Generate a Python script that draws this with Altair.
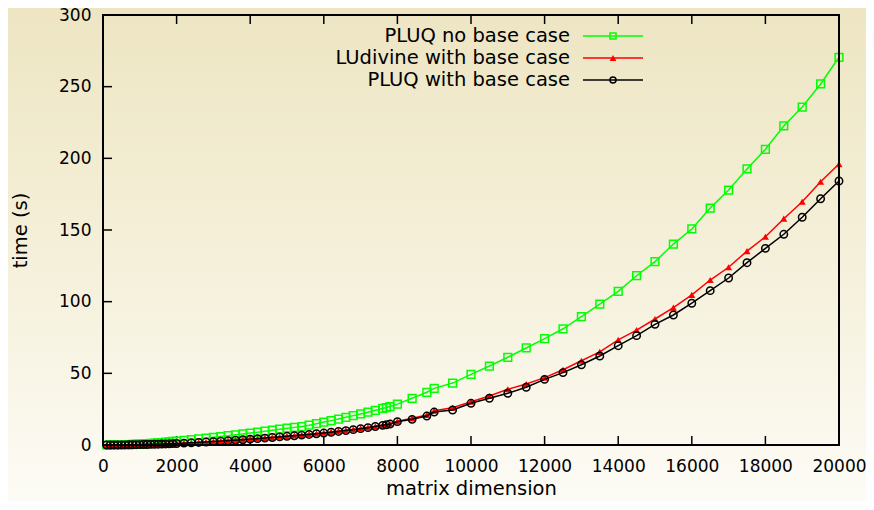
import altair as alt
import pandas as pd

# ---------------- data ----------------
dims = [100, 200, 300, 400, 500, 600, 700, 800, 900, 1000,
        1100, 1200, 1300, 1400, 1500, 1600, 1700, 1800, 1900, 2000,
        2200, 2400, 2600, 2800, 3000, 3200, 3400, 3600, 3800, 4000,
        4200, 4400, 4600, 4800, 5000, 5200, 5400, 5600, 5800, 6000,
        6200, 6400, 6600, 6800, 7000, 7200, 7400, 7600, 7700, 7800,
        8000, 8400, 8800, 9000, 9500, 10000, 10500, 11000, 11500, 12000,
        12500, 13000, 13500, 14000, 14500, 15000, 15500, 16000, 16500, 17000,
        17500, 18000, 18500, 19000, 19500, 20000]

pluq_no_base = [0.0, 0.02, 0.05, 0.1, 0.16, 0.23, 0.32, 0.42, 0.53, 0.65,
                0.8, 0.95, 1.1, 1.3, 1.5, 1.7, 1.95, 2.2, 2.45, 2.7,
                3.2, 3.7, 4.2, 4.8, 5.4, 5.9, 6.5, 7.1, 7.7, 8.3,
                8.9, 9.6, 10.3, 11.0, 11.7, 12.3, 12.9, 13.8, 14.9, 16.0,
                17.0, 18.1, 19.3, 20.5, 21.7, 22.9, 24.2, 25.5, 26.1, 26.8,
                28.5, 32.6, 36.8, 39.5, 43.2, 49.3, 55.1, 61.2, 67.7, 74.2,
                81.1, 89.5, 98.3, 107.2, 118.1, 127.9, 140.2, 150.7, 165.3, 177.9,
                192.6, 206.3, 222.6, 235.8, 251.9, 270.5]

ludivine_base = [0.0, 0.01, 0.02, 0.04, 0.06, 0.09, 0.12, 0.16, 0.2, 0.25,
                 0.3, 0.36, 0.43, 0.5, 0.58, 0.67, 0.77, 0.88, 0.99, 1.1,
                 1.33, 1.58, 1.84, 2.13, 2.44, 2.75, 3.08, 3.42, 3.78, 4.16,
                 4.55, 4.95, 5.36, 5.78, 6.2, 6.63, 7.08, 7.55, 8.05, 8.6,
                 9.15, 9.7, 10.3, 10.9, 11.6, 12.3, 13.1, 13.9, 14.3, 14.8,
                 16.5, 18.6, 20.9, 23.9, 26.0, 30.2, 34.2, 38.9, 42.6, 47.0,
                 52.5, 58.8, 65.0, 73.3, 80.2, 87.9, 95.8, 104.7, 115.1, 124.0,
                 135.3, 145.3, 157.9, 169.7, 183.7, 196.0]

pluq_base = [0.0, 0.01, 0.02, 0.04, 0.06, 0.09, 0.12, 0.16, 0.2, 0.25,
             0.3, 0.35, 0.42, 0.49, 0.56, 0.65, 0.74, 0.84, 0.95, 1.06,
             1.28, 1.52, 1.78, 2.06, 2.36, 2.66, 2.98, 3.32, 3.67, 4.04,
             4.42, 4.82, 5.23, 5.65, 6.05, 6.45, 6.9, 7.35, 7.85, 8.35,
             8.9, 9.45, 10.05, 10.7, 11.4, 12.1, 12.9, 13.7, 14.1, 14.6,
             16.3, 17.9, 20.2, 23.0, 24.4, 29.1, 32.6, 36.1, 40.3, 45.8,
             50.5, 56.0, 62.1, 69.3, 76.3, 84.2, 90.7, 98.9, 107.7, 116.5,
             127.2, 137.2, 147.0, 158.9, 171.8, 184.2]

series_names = ["PLUQ no base case", "LUdivine with base case", "PLUQ with base case"]
series_colors = ["#00ff00", "#ff0000", "#000000"]
series_shapes = ["square", "triangle-up", "circle"]
series_filled = [False, True, False]

x_ticks = [0, 2000, 4000, 6000, 8000, 10000, 12000, 14000, 16000, 18000, 20000]
y_ticks = [0, 50, 100, 150, 200, 250, 300]

# ---------------- layout ----------------
W, H = 736, 430
FONT = "DejaVu Sans"
TICK_FS = 17
TITLE_FS = 19.5
TICK_LEN = 9

rows = []
for name, vals in zip(series_names, [pluq_no_base, ludivine_base, pluq_base]):
    for n, t in zip(dims, vals):
        rows.append({"n": n, "time": t, "series": name})
df = pd.DataFrame(rows)

xscale = alt.Scale(domain=[0, 20000], nice=False, zero=False)
yscale = alt.Scale(domain=[0, 300], nice=False, zero=False)

xaxis = alt.Axis(values=x_ticks, format="d", ticks=False, domain=False, grid=False,
                 labelFont=FONT, labelFontSize=TICK_FS, labelColor="#000000",
                 labelPadding=13, title="matrix dimension", titleFont=FONT,
                 titleFontSize=TITLE_FS, titleFontWeight="normal", titleColor="#000000",
                 titlePadding=5, zindex=1, labelFlush=False)
yaxis = alt.Axis(values=y_ticks, format="d", ticks=False, domain=False, grid=False,
                 labelFont=FONT, labelFontSize=TICK_FS, labelColor="#000000",
                 labelPadding=12, title="time (s)", titleFont=FONT,
                 titleFontSize=TITLE_FS, titleFontWeight="normal", titleColor="#000000",
                 titlePadding=28, zindex=1)

X = alt.X("n:Q", scale=xscale, axis=xaxis)
Y = alt.Y("time:Q", scale=yscale, axis=yaxis)

one = pd.DataFrame({"a": [0]})

gradient = alt.LinearGradient(
    gradient="linear",
    stops=[alt.GradientStop(color="#ede5c2", offset=0),
           alt.GradientStop(color="#f5f0da", offset=0.5),
           alt.GradientStop(color="#fdfcf7", offset=1)],
    x1=0, x2=0, y1=0, y2=1)

bg = alt.Chart(one).mark_rect(color=gradient, clip=False).encode(
    x=alt.value(-100), x2=alt.value(W + 40), y=alt.value(-10), y2=alt.value(H + 70))

layers = [bg]

# tick marks (inward, gnuplot style)
xt = pd.DataFrame({"n": x_ticks})
yt = pd.DataFrame({"time": y_ticks})
layers.append(alt.Chart(xt).mark_rule(color="#000000", strokeWidth=1.5).encode(
    x=X, y=alt.value(H), y2=alt.value(H - TICK_LEN)))
layers.append(alt.Chart(xt).mark_rule(color="#000000", strokeWidth=1.5).encode(
    x=X, y=alt.value(0), y2=alt.value(TICK_LEN)))
layers.append(alt.Chart(yt).mark_rule(color="#000000", strokeWidth=1.5).encode(
    y=Y, x=alt.value(0), x2=alt.value(TICK_LEN)))

for name, col, shape, filled in zip(series_names, series_colors, series_shapes, series_filled):
    sub = df[df["series"] == name]
    layers.append(alt.Chart(sub).mark_line(color=col, strokeWidth=1.5).encode(x=X, y=Y))
    size = 60 if shape == "square" else (50 if shape == "triangle-up" else 55)
    pt = alt.Chart(sub).mark_point(shape=shape, filled=filled, color=col, size=size,
                                   strokeWidth=1.5, opacity=1)
    layers.append(pt.encode(x=X, y=Y))

# manual legend (symbol on the right of the label, gnuplot style)
leg_rows = [21, 43, 65]
for name, col, shape, filled, ry in zip(series_names, series_colors, series_shapes,
                                        series_filled, leg_rows):
    ld = pd.DataFrame({"label": [name]})
    layers.append(alt.Chart(ld).mark_text(align="right", baseline="middle", font=FONT,
                                          fontSize=TITLE_FS, color="#000000").encode(
        text="label:N", x=alt.value(467), y=alt.value(ry)))
    layers.append(alt.Chart(ld).mark_rule(color=col, strokeWidth=1.5).encode(
        x=alt.value(480), x2=alt.value(540), y=alt.value(ry)))
    lsize = 36 if shape != "triangle-up" else 45
    layers.append(alt.Chart(ld).mark_point(shape=shape, filled=filled, color=col, size=lsize,
                                           strokeWidth=1.5, opacity=1).encode(
        x=alt.value(510), y=alt.value(ry)))

# plot border
layers.append(alt.Chart(one).mark_rect(filled=False, stroke="#000000", strokeWidth=2,
                                       fillOpacity=0).encode(
    x=alt.value(0), x2=alt.value(W), y=alt.value(0), y2=alt.value(H)))

chart = alt.layer(*layers).properties(
    width=W, height=H,
    autosize=alt.AutoSizeParams(type="none"),
    padding={"left": 95, "top": 7, "right": 27, "bottom": 57},
).configure_view(stroke=None).configure(background="#fdfcf7")

chart.save("out.html", embed_options={"renderer": "svg", "actions": False})
